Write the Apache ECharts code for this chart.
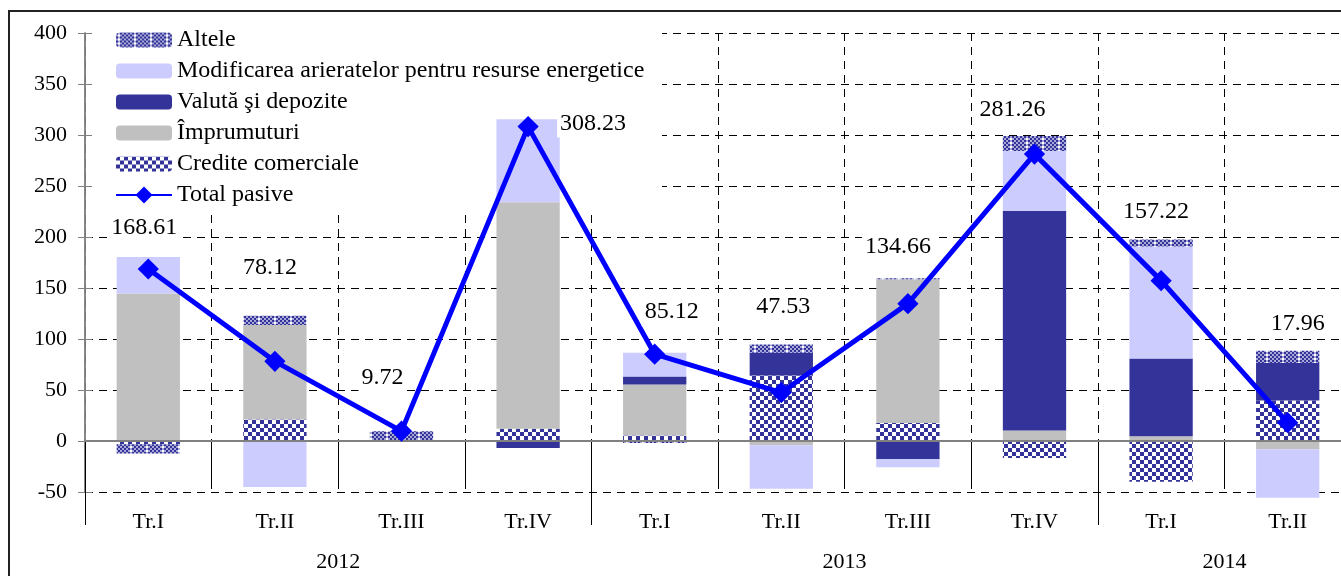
<!DOCTYPE html>
<html>
<head>
<meta charset="utf-8">
<script src="https://cdn.jsdelivr.net/npm/echarts@6/dist/echarts.min.js"></script>
<style>
  html, body { margin: 0; padding: 0; background: #fff; }
  #chart { width: 1341px; height: 576px; }
</style>
</head>
<body>
<div id="chart"></div>
<script>
// date (mln USD)
const quarters = ['Tr.I', 'Tr.II', 'Tr.III', 'Tr.IV', 'Tr.I', 'Tr.II', 'Tr.III', 'Tr.IV', 'Tr.I', 'Tr.II'];
const years = ['2012', '2013', '2014'];
const quartersPerYear = [4, 4, 2];

const crediteComerciale = [-3.3, 21.2, 0, 12.0, 5.5, 64.2, 17.6, -16.6, -40.0, 39.6];
const imprumuturi = [144.6, 92.5, 0, 222.0, 49.9, -4.2, 141.0, 10.4, 4.6, -8.1];
const valuta = [0, 0, 0, -6.8, 7.8, 22.4, -17.9, 215.0, 76.2, 36.8];
const modificarea = [35.9, -45.0, 0, 81.5, 23.4, -42.7, -7.8, 58.9, 109.9, -47.6];
const altele = [-9.0, 9.1, 9.5, 0, -2.0, 7.9, 1.0, 14.7, 6.8, 12.0];
const totalPasive = [168.61, 78.12, 9.72, 308.23, 85.12, 47.53, 134.66, 281.26, 157.22, 17.96];

// pozitia etichetelor fata de puncte (px)
const labelOffsets = [[-4, -41], [-5, -94], [-19, -53], [65, -3], [17, -42], [2, -86], [-10, -57], [-22, -44], [-5, -69], [10, -99]];

const FONT = 'Liberation Serif';

function checker(cell, fg, bg, dot) {
  const c = document.createElement('canvas');
  c.width = cell * 2 * (dot ? 4 : 1);
  c.height = cell * 2;
  const ctx = c.getContext('2d');
  ctx.fillStyle = bg;
  ctx.fillRect(0, 0, c.width, c.height);
  ctx.fillStyle = fg;
  for (let x = 0; x < c.width; x += cell) {
    for (let y = 0; y < c.height; y += cell) {
      if (((x + y) / cell) % 2 === 0) ctx.fillRect(x, y, cell, cell);
    }
  }
  if (dot) {
    ctx.fillStyle = '#ffffff';
    ctx.fillRect(cell, cell, cell, cell);
  }
  return { image: c, repeat: 'repeat' };
}

const patAltele = checker(2, '#333399', '#a8a8d8', true);
const patCredite = checker(4, '#333399', '#ffffff', false);

// axa anilor: separatori si centrele etichetelor
const yearTicks = [0];
const yearLabelPos = {};
let acc = 0;
quartersPerYear.forEach((n, i) => {
  yearLabelPos[acc + n / 2] = years[i];
  acc += n;
  yearTicks.push(acc);
});

const chart = echarts.init(document.getElementById('chart'));

const barBase = {
  type: 'bar',
  stack: 'total',
  barWidth: '50%',
  clip: false
};

const option = {
  animation: false,
  textStyle: { fontFamily: FONT },
  grid: { left: 85, top: 33, width: 1266, height: 459, outerBoundsMode: 'none' },
  legend: {
    orient: 'vertical',
    left: 115,
    top: 28,
    padding: 0,
    itemWidth: 56,
    itemHeight: 15,
    itemGap: 7,
    textStyle: { fontSize: 24, fontFamily: FONT, color: '#000', lineHeight: 24 },
    data: ['Altele', 'Modificarea arieratelor pentru resurse energetice', 'Valută şi depozite',
      'Împrumuturi', 'Credite comerciale', 'Total pasive']
  },
  graphic: [
    {
      type: 'rect',
      z: 1,
      silent: true,
      shape: { x: 92, y: 14, width: 570, height: 199 },
      style: { fill: '#ffffff' }
    },
    {
      type: 'rect',
      z: 10,
      silent: true,
      shape: { x: 9, y: 11, width: 1400, height: 700 },
      style: { fill: 'none', stroke: '#222', lineWidth: 2 }
    }
  ],
  xAxis: [
    {
      type: 'category',
      data: quarters,
      position: 'bottom',
      axisLine: { show: false },
      axisTick: { show: true, interval: 0, length: 43, lineStyle: { color: '#000' } },
      axisLabel: { interval: 0, margin: 19, fontSize: 22, color: '#000', fontFamily: FONT },
      splitLine: { show: true, interval: 0, lineStyle: { type: [8, 6], color: '#000' } }
    },
    {
      type: 'value',
      min: 0,
      max: 10,
      position: 'bottom',
      axisLine: { show: false },
      splitLine: { show: false },
      axisTick: { show: true, customValues: yearTicks, length: 84, lineStyle: { color: '#000' } },
      axisLabel: {
        customValues: Object.keys(yearLabelPos).map(Number),
        formatter: v => yearLabelPos[v] || '',
        margin: 59,
        fontSize: 22,
        color: '#000',
        fontFamily: FONT
      }
    }
  ],
  yAxis: [
    {
      type: 'value',
      min: -50,
      max: 400,
      interval: 50,
      axisLine: { show: true, lineStyle: { color: '#808080', width: 1.5 } },
      axisTick: { show: true, length: 7, lineStyle: { color: '#808080' } },
      axisLabel: { margin: 18, fontSize: 22, color: '#000', fontFamily: FONT },
      splitLine: { show: true, lineStyle: { type: [8, 6], color: '#000' } }
    },
    {
      type: 'value',
      min: -50,
      max: 400,
      interval: 50,
      position: 'left',
      axisLine: { show: true, lineStyle: { color: '#808080', width: 1.5 } },
      axisTick: { show: true, inside: true, length: 7, lineStyle: { color: '#808080' } },
      axisLabel: { show: false },
      splitLine: { show: false }
    }
  ],
  series: [
    Object.assign({}, barBase, {
      name: 'Credite comerciale',
      data: crediteComerciale,
      itemStyle: { color: patCredite },
      markLine: {
        silent: true,
        symbol: 'none',
        label: { show: false },
        lineStyle: { color: '#808080', width: 2, type: 'solid' },
        data: [{ yAxis: 0 }]
      }
    }),
    Object.assign({}, barBase, {
      name: 'Împrumuturi',
      data: imprumuturi,
      itemStyle: { color: '#C0C0C0' }
    }),
    Object.assign({}, barBase, {
      name: 'Valută şi depozite',
      data: valuta,
      itemStyle: { color: '#333399' }
    }),
    Object.assign({}, barBase, {
      name: 'Modificarea arieratelor pentru resurse energetice',
      data: modificarea,
      itemStyle: { color: '#CCCCFF' }
    }),
    Object.assign({}, barBase, {
      name: 'Altele',
      data: altele,
      itemStyle: { color: patAltele }
    }),
    {
      name: 'Total pasive',
      type: 'line',
      z: 5,
      data: totalPasive.map((v, i) => ({ value: v, label: { offset: labelOffsets[i] } })),
      symbol: 'rect',
      symbolSize: 15,
      symbolRotate: 45,
      lineStyle: { color: '#0000FF', width: 5 },
      itemStyle: { color: '#0000FF' },
      label: {
        show: true,
        position: 'inside',
        color: '#000',
        fontSize: 24,
        fontFamily: FONT,
        backgroundColor: '#fff',
        padding: [2, 3],
        formatter: p => p.value.toFixed(2)
      }
    }
  ]
};

chart.setOption(option);
</script>
</body>
</html>
